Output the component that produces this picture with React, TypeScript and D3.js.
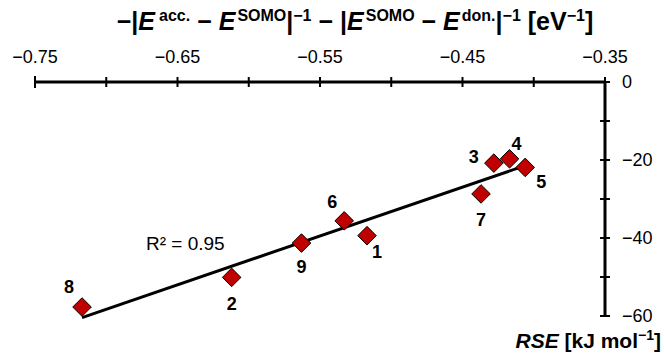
import * as d3 from "d3";

// compound numbers, orbital-gap term (eV^-1) and RSE (kJ/mol)
const compounds = ["1", "2", "3", "4", "5", "6", "7", "8", "9"];
const gapTerm = [-0.517, -0.612, -0.428, -0.417, -0.406, -0.533, -0.437, -0.717, -0.563];
const rse = [-39.4, -50.1, -20.8, -19.7, -21.9, -35.6, -28.7, -57.7, -41.3];

const xTickLabels = [-0.75, -0.65, -0.55, -0.45, -0.35];
const yTickLabels = [0, -20, -40, -60];
const r2Label = "R² = 0.95";

// where each number sits relative to its marker
const labelOffsets: [number, number][] = [
  [10, 16], [0, 26], [-20, -6], [7, -15], [16, 14], [-12, -19], [0, 26], [-13, -20], [0, 24],
];

const width = 664;
const height = 354;
const font = "'Liberation Sans', Arial, sans-serif";
const fmt = (v: number) => d3.format(".2f")(v).replace("-", "−");
const fmtY = (v: number) => String(v).replace("-", "−");

export default function App() {
  const x = d3.scaleLinear().domain([-0.75, -0.35]).range([35, 605]);
  const y = d3.scaleLinear().domain([-60, 0]).range([316, 82]);

  const pts = compounds.map((c, i) => ({ c, x: gapTerm[i], y: rse[i] }));

  // least-squares fit, drawn over the data range
  const mx = d3.mean(pts, (d) => d.x)!;
  const my = d3.mean(pts, (d) => d.y)!;
  const slope =
    d3.sum(pts, (d) => (d.x - mx) * (d.y - my)) / d3.sum(pts, (d) => (d.x - mx) ** 2);
  const [x0, x1] = d3.extent(gapTerm) as [number, number];
  const fit = (v: number) => my + slope * (v - mx);
  const line = d3
    .line<number>()
    .x((v) => x(v))
    .y((v) => y(fit(v)));

  const xMinor = d3.range(0, 9).map((i) => -0.75 + i * 0.05);
  const yMinor = d3.range(0, 7).map((i) => -i * 10);
  const axisX = y(0);
  const axisY = x(-0.35);
  const dia = d3.symbol().type(d3.symbolDiamond2).size(220);

  const sup = { dy: -9, fontSize: 16 };
  const down = 9;

  return (
    <svg
      width={width}
      height={height}
      style={{ position: "absolute", left: 0, top: 0, background: "#fff" }}
      fontFamily={font}
    >
      {/* title */}
      <text x={355} y={30} textAnchor="middle" fontSize={25} fontWeight="bold">
        <tspan>−|</tspan>
        <tspan fontStyle="italic">E</tspan>
        <tspan dx={4} {...sup}>acc.</tspan>
        <tspan dy={down}> − </tspan>
        <tspan fontStyle="italic">E</tspan>
        <tspan dx={2} {...sup}>SOMO</tspan>
        <tspan dy={down}>|</tspan>
        <tspan {...sup}>−1</tspan>
        <tspan dy={down}> − |</tspan>
        <tspan fontStyle="italic">E</tspan>
        <tspan dx={2} {...sup}>SOMO</tspan>
        <tspan dy={down}> − </tspan>
        <tspan fontStyle="italic">E</tspan>
        <tspan dx={2} {...sup}>don.</tspan>
        <tspan dy={down}>|</tspan>
        <tspan {...sup}>−1</tspan>
        <tspan dy={down}> [eV</tspan>
        <tspan {...sup}>−1</tspan>
        <tspan dy={down}>]</tspan>
      </text>

      {/* top x axis */}
      <line x1={x(-0.75)} x2={axisY} y1={axisX} y2={axisX} stroke="#000" strokeWidth={3} />
      {xMinor.map((v, i) => (
        <line
          key={i}
          x1={x(v)}
          x2={x(v)}
          y1={axisX - (i === 0 ? 6 : 5)}
          y2={axisX + (i === 0 ? 6 : 5)}
          stroke="#000"
          strokeWidth={2}
        />
      ))}
      {xTickLabels.map((v) => (
        <text key={v} x={x(v)} y={63} textAnchor="middle" fontSize={18}>
          {fmt(v)}
        </text>
      ))}

      {/* right y axis */}
      <line x1={axisY} x2={axisY} y1={axisX} y2={y(-60)} stroke="#000" strokeWidth={3} />
      {yMinor.map((v) => (
        <line key={v} x1={axisY - 5} x2={axisY + 5} y1={y(v)} y2={y(v)} stroke="#000" strokeWidth={2} />
      ))}
      {yTickLabels.map((v) => (
        <text key={v} x={axisY + 17} y={y(v)} dy="0.35em" fontSize={18}>
          {fmtY(v)}
        </text>
      ))}
      <text x={661} y={348} textAnchor="end" fontSize={21} fontWeight="bold">
        <tspan fontStyle="italic">RSE</tspan>
        <tspan> [kJ mol</tspan>
        <tspan dy={-8} fontSize={14}>−1</tspan>
        <tspan dy={8}>]</tspan>
      </text>

      {/* fit line */}
      <path d={line([x0, x1]) ?? ""} fill="none" stroke="#000" strokeWidth={3} />
      <text x={146} y={250} fontSize={19}>
        {r2Label}
      </text>

      {/* points */}
      {pts.map((d, i) => (
        <g key={d.c}>
          <path
            d={dia() ?? ""}
            transform={`translate(${x(d.x)},${y(d.y)})`}
            fill="#c00000"
            stroke="#000"
            strokeWidth={1}
          />
          <text
            x={x(d.x) + labelOffsets[i][0]}
            y={y(d.y) + labelOffsets[i][1]}
            dy="0.35em"
            textAnchor="middle"
            fontSize={18}
            fontWeight="bold"
          >
            {d.c}
          </text>
        </g>
      ))}
    </svg>
  );
}
